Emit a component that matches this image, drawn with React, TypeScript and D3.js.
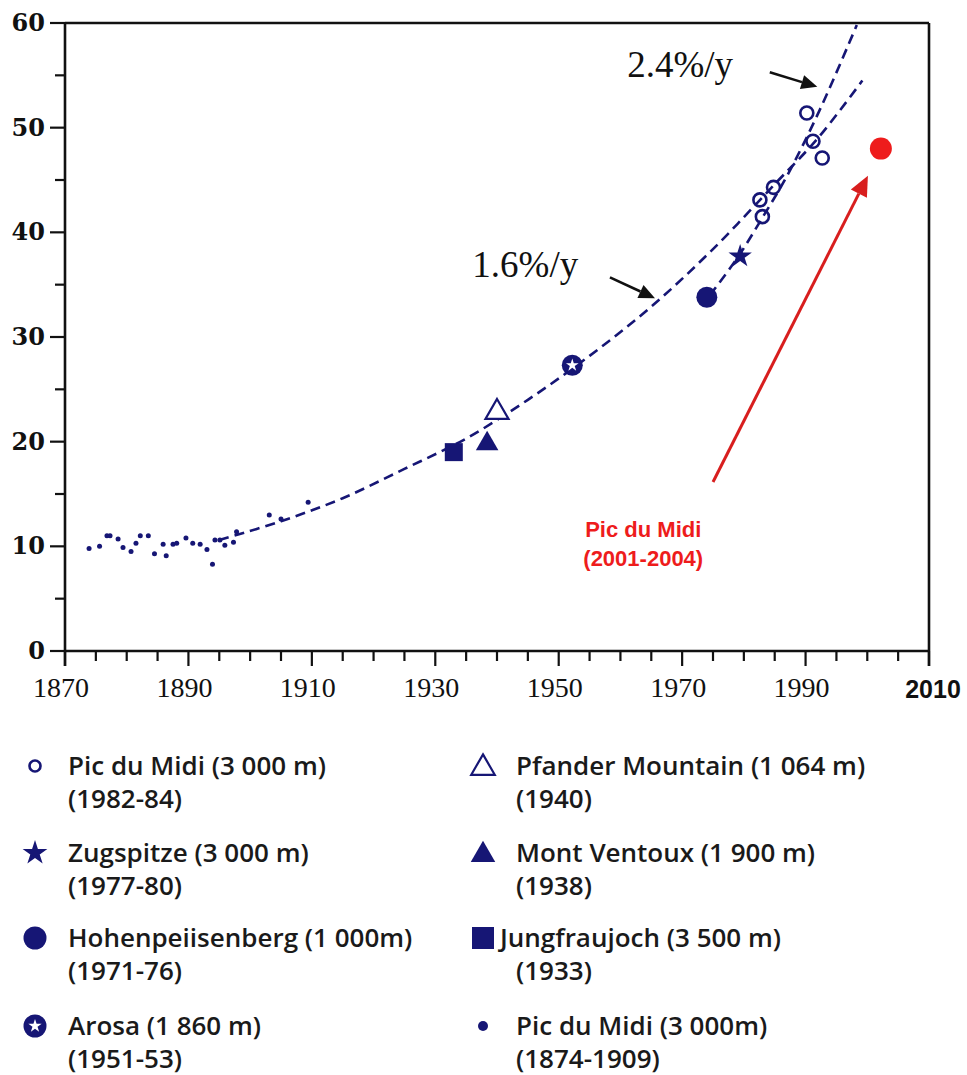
import React from 'react';
import * as d3 from 'd3';

const W = 967;
const H = 1075;

// Axis domains and tick labels
const xDomain: [number, number] = [1870, 2010];
const yDomain: [number, number] = [0, 60];
const xMajorTicks = [1870, 1890, 1910, 1930, 1950, 1970, 1990, 2010];
const yMajorTicks = [0, 10, 20, 30, 40, 50, 60];

// Pic du Midi 1874-1909 (small dots)
const earlyYears = [1873.9, 1875.6, 1876.8, 1877.3, 1878.6, 1879.4, 1880.7, 1881.5, 1882.2, 1883.5, 1884.5, 1885.9, 1886.4, 1887.5, 1888.1, 1889.6, 1890.7, 1891.9, 1893.0, 1893.9, 1894.3, 1895.1, 1895.9, 1897.3, 1897.8, 1903.1, 1905.0, 1909.4];
const earlyValues = [9.8, 10.0, 11.0, 11.0, 10.7, 9.9, 9.5, 10.3, 11.0, 11.0, 9.3, 10.2, 9.1, 10.2, 10.3, 10.8, 10.3, 10.2, 9.7, 8.3, 10.6, 10.6, 10.1, 10.4, 11.4, 13.0, 12.6, 14.2];

// Pic du Midi (open circles)
const circleYears = [1982.6, 1983.0, 1984.8, 1990.2, 1991.2, 1992.7];
const circleValues = [43.1, 41.5, 44.3, 51.4, 48.7, 47.1];

// Single stations
const stationNames = ['Jungfraujoch', 'Mont Ventoux', 'Pfander', 'Arosa', 'Hohenpeiisenberg', 'Zugspitze'];
const stationYears = [1933.0, 1938.4, 1940.0, 1952.2, 1974.0, 1979.4];
const stationValues = [19.0, 20.0, 23.0, 27.3, 33.8, 37.7];

// Pic du Midi 2001-2004 (red)
const recentYear = 2002.2;
const recentValue = 48.0;

// Trend curves
const trend16Years = [1895, 1905, 1915, 1925, 1935, 1945, 1955, 1965, 1975, 1985, 1992, 1999.2];
const trend16Values = [10.6, 12.4, 14.6, 17.4, 20.3, 24.0, 28.2, 32.9, 38.4, 44.6, 49.0, 54.5];
const trend24Years = [1974.5, 1979, 1983, 1987, 1992.3, 1998.3];
const trend24Values = [34.0, 37.6, 41.4, 45.4, 51.7, 59.8];

// Legend
const legendLeftNames = ['Pic du Midi (3 000 m)', 'Zugspitze (3 000 m)', 'Hohenpeiisenberg (1 000m)', 'Arosa (1 860 m)'];
const legendLeftYears = ['(1982-84)', '(1977-80)', '(1971-76)', '(1951-53)'];
const legendRightNames = ['Pfander Mountain (1 064 m)', 'Mont Ventoux (1 900 m)', 'Jungfraujoch (3 500 m)', 'Pic du Midi (3 000m)'];
const legendRightYears = ['(1940)', '(1938)', '(1933)', '(1874-1909)'];

const NAVY = '#161675';
const RED = '#ee1c1c';

const x = d3.scaleLinear().domain(xDomain).range([65, 929]);
const y = d3.scaleLinear().domain(yDomain).range([651, 23]);

const starPath = (size: number) => d3.symbol().type(d3.symbolStar).size(size)() as string;
const triPath = (size: number) => d3.symbol().type(d3.symbolTriangle).size(size)() as string;

function Marker({ kind, cx, cy, legend = false }: { kind: string; cx: number; cy: number; legend?: boolean }) {
  switch (kind) {
    case 'Jungfraujoch': {
      const s = legend ? 22 : 18;
      return <rect x={cx - s / 2} y={cy - s / 2} width={s} height={s} fill={NAVY} />;
    }
    case 'Mont Ventoux':
      return <path d={triPath(legend ? 260 : 220)} transform={`translate(${cx},${cy + 2})`} fill={NAVY} />;
    case 'Pfander':
      return <path d={triPath(legend ? 240 : 230)} transform={`translate(${cx},${cy + 2})`} fill="white" stroke={NAVY} strokeWidth={2.2} />;
    case 'Arosa':
      return (
        <g transform={`translate(${cx},${cy})`}>
          <circle r={legend ? 11.5 : 10.5} fill={NAVY} />
          <path d={starPath(legend ? 55 : 50)} fill="white" />
        </g>
      );
    case 'Hohenpeiisenberg':
      return <circle cx={cx} cy={cy} r={legend ? 11.5 : 10.5} fill={NAVY} />;
    case 'Zugspitze':
      return <path d={starPath(legend ? 190 : 170)} transform={`translate(${cx},${cy})`} fill={NAVY} />;
    case 'PicCircle':
      return <circle cx={cx} cy={cy} r={legend ? 5.5 : 6.5} fill="none" stroke={NAVY} strokeWidth={2.6} />;
    case 'PicDot':
      return <circle cx={cx} cy={cy} r={legend ? 5 : 2.5} fill={NAVY} />;
    default:
      return null;
  }
}

function Arrow({ x1, y1, x2, y2, color, width, head }: { x1: number; y1: number; x2: number; y2: number; color: string; width: number; head: number }) {
  const ang = Math.atan2(y2 - y1, x2 - x1);
  const hx = x2 - head * Math.cos(ang);
  const hy = y2 - head * Math.sin(ang);
  const w = head * 0.45;
  const p1 = [hx + w * Math.sin(ang), hy - w * Math.cos(ang)];
  const p2 = [hx - w * Math.sin(ang), hy + w * Math.cos(ang)];
  return (
    <g>
      <line x1={x1} y1={y1} x2={hx} y2={hy} stroke={color} strokeWidth={width} />
      <polygon points={`${x2},${y2} ${p1[0]},${p1[1]} ${p2[0]},${p2[1]}`} fill={color} />
    </g>
  );
}

export default function App() {
  const line = d3.line<[number, number]>().x(d => x(d[0])).y(d => y(d[1])).curve(d3.curveCatmullRom.alpha(0.5));
  const t16 = line(trend16Years.map((v, i) => [v, trend16Values[i]] as [number, number])) as string;
  const t24 = line(trend24Years.map((v, i) => [v, trend24Values[i]] as [number, number])) as string;

  const minorX = d3.range(1870, 2011, 5);
  const minorY = d3.range(0, 61, 5);

  const legendRowY = [775, 862, 947, 1035];
  const leftKinds = ['PicCircle', 'Zugspitze', 'Hohenpeiisenberg', 'Arosa'];
  const rightKinds = ['Pfander', 'Mont Ventoux', 'Jungfraujoch', 'PicDot'];

  const x0 = x(xDomain[0]);
  const x1 = x(xDomain[1]);
  const y0 = y(yDomain[0]);
  const y1 = y(yDomain[1]);

  return (
    <svg width={W} height={H} style={{ position: 'absolute', left: 0, top: 0, background: 'white' }}>
      <rect width={W} height={H} fill="white" />

      {/* frame */}
      <g stroke="#111" strokeWidth={2.6} fill="none">
        <line x1={x0} y1={y0} x2={x1} y2={y0} />
        <line x1={x0} y1={y0 + 15} x2={x0} y2={y1} />
        <line x1={x0} y1={y1} x2={x1} y2={y1} />
        <line x1={x1} y1={y1} x2={x1} y2={y0 + 15} />
      </g>

      {/* x ticks */}
      <g stroke="#111" strokeWidth={2.2}>
        {minorX.map(t => (
          <line key={t} x1={x(t)} x2={x(t)} y1={y0} y2={y0 + (xMajorTicks.includes(t) ? 15 : 10)} />
        ))}
      </g>
      <g fontFamily="'Liberation Serif', serif" fontSize={28} fill="#111" textAnchor="middle">
        {xMajorTicks.filter(t => t < 2010).map(t => (
          <text key={t} x={x(t) - 4} y={697}>{t}</text>
        ))}
        <text x={x(2010) + 4} y={698} fontFamily="'Liberation Sans', Arial, sans-serif" fontWeight="bold" fontSize={25}>2010</text>
      </g>

      {/* y ticks */}
      <g stroke="#111" strokeWidth={2.2}>
        {minorY.map(t => (
          <line key={t} y1={y(t)} y2={y(t)} x1={x0} x2={x0 - (yMajorTicks.includes(t) ? 15 : 10)} />
        ))}
      </g>
      <g fontFamily="'DejaVu Serif', serif" fontWeight="bold" fontSize={24} fill="#111" textAnchor="end">
        {yMajorTicks.map(t => (
          <text key={t} x={45} y={y(t) + 8}>{t}</text>
        ))}
      </g>

      {/* trend curves */}
      <path d={t16} fill="none" stroke={NAVY} strokeWidth={2.6} strokeDasharray="10 6" />
      <path d={t24} fill="none" stroke={NAVY} strokeWidth={2.6} strokeDasharray="10 6" />

      {/* early dots */}
      {earlyYears.map((yr, i) => (
        <Marker key={'e' + i} kind="PicDot" cx={x(yr)} cy={y(earlyValues[i])} />
      ))}

      {/* stations */}
      {stationNames.map((n, i) => (
        <Marker key={n} kind={n} cx={x(stationYears[i])} cy={y(stationValues[i])} />
      ))}

      {/* Pic du Midi circles */}
      {circleYears.map((yr, i) => (
        <Marker key={'c' + i} kind="PicCircle" cx={x(yr)} cy={y(circleValues[i])} />
      ))}

      {/* recent red point */}
      <circle cx={x(recentYear)} cy={y(recentValue)} r={11} fill={RED} />

      {/* annotations */}
      <g fontFamily="'Liberation Serif', serif" fontSize={37} fill="#111">
        <text x={x(1961.1)} y={y(54.8)}>2.4%/y</text>
        <text x={x(1936.0)} y={y(35.7)}>1.6%/y</text>
      </g>
      <Arrow x1={x(1984.2)} y1={y(55.3)} x2={x(1991.9)} y2={y(53.9)} color="#111" width={2.6} head={16} />
      <Arrow x1={x(1958.3)} y1={y(35.7)} x2={x(1965.6)} y2={y(33.7)} color="#111" width={2.6} head={16} />
      <Arrow x1={x(1975.0)} y1={y(16.15)} x2={x(2000.1)} y2={y(45.4)} color="#d81e1e" width={3} head={20} />
      <g fontFamily="'Liberation Sans', Arial, sans-serif" fontWeight="bold" fontSize={22} fill={RED} textAnchor="middle">
        <text x={x(1963.7)} y={y(10.9)}>Pic du Midi</text>
        <text x={x(1963.7)} y={y(8.1)}>(2001-2004)</text>
      </g>

      {/* legend */}
      <g fontFamily="'Open Sans', sans-serif" fontWeight={600} fontSize={26} fill="#1a1a1a">
        {legendLeftNames.map((n, i) => (
          <g key={n}>
            <Marker kind={leftKinds[i]} cx={35} cy={legendRowY[i] - 9} legend />
            <text x={68} y={legendRowY[i]}>{n}</text>
            <text x={68} y={legendRowY[i] + 33}>{legendLeftYears[i]}</text>
          </g>
        ))}
        {legendRightNames.map((n, i) => (
          <g key={n}>
            <Marker kind={rightKinds[i]} cx={483} cy={legendRowY[i] - 9} legend />
            <text x={rightKinds[i] === 'Jungfraujoch' ? 500 : 516} y={legendRowY[i]}>{n}</text>
            <text x={516} y={legendRowY[i] + 33}>{legendRightYears[i]}</text>
          </g>
        ))}
      </g>
    </svg>
  );
}
